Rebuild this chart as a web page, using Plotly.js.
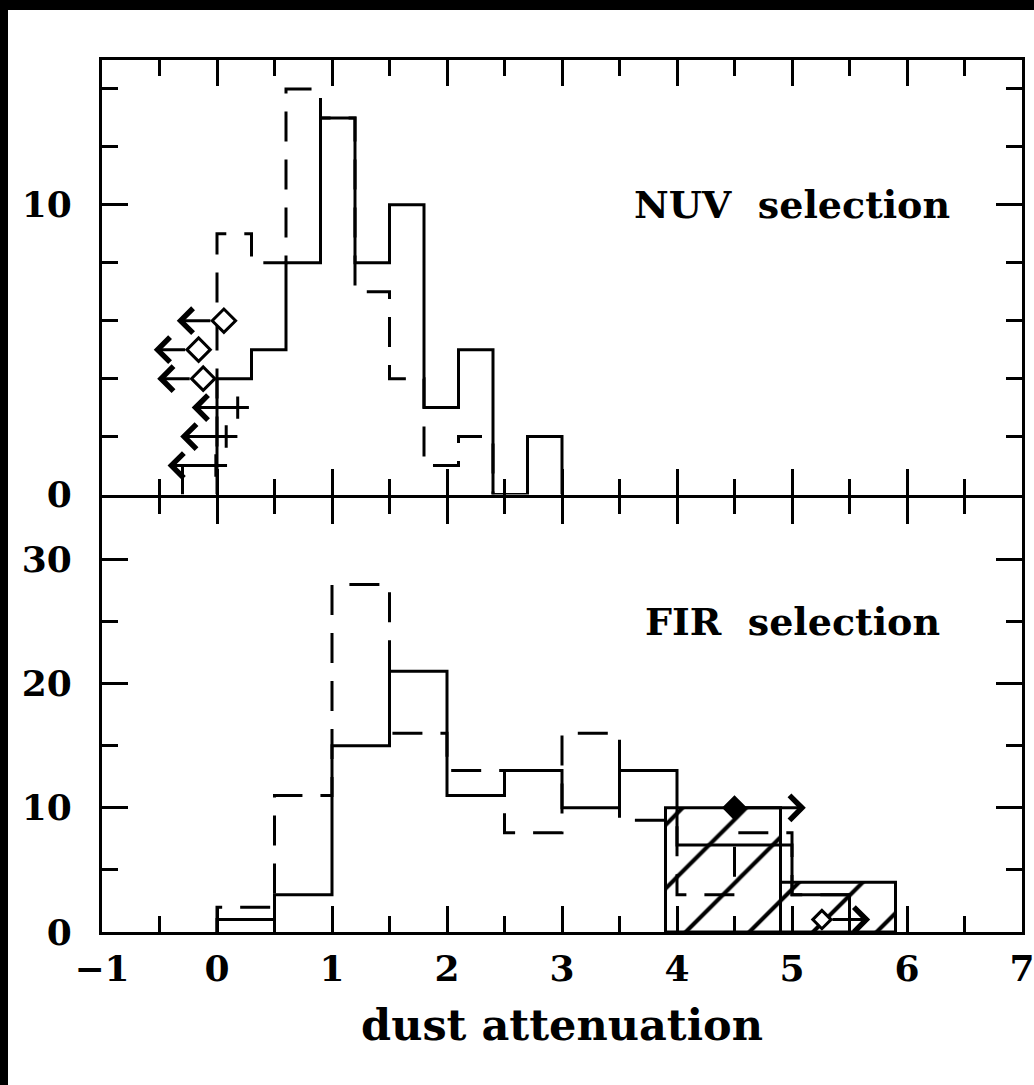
<!DOCTYPE html>
<html><head><meta charset="utf-8">
<script src="https://cdn.plot.ly/plotly-3.0.1.min.js"></script>
<style>
html,body{margin:0;padding:0;background:#000;width:1034px;height:1085px;overflow:hidden}
#chart{position:absolute;left:8px;top:10px;width:1026px;height:1075px;background:#fff;overflow:hidden}
</style>
</head><body><div id="chart"></div>
<script>
// ---------- DATA ----------
// NUV selection (top panel)
const nuvSolidStart = -0.3;
const nuvBinWidth = 0.3;
const nuvSolidCounts = [1, 4, 5, 8, 13, 8, 10, 3, 5, 0, 2];
const nuvDashedStart = 0.0;
const nuvDashedCounts = [9, 8, 14, 13, 7, 4, 1, 2];
// upper limits (marker position, arrow tip)
const nuvLimX = [0.06, -0.16, -0.12, 0.18, 0.08, -0.01];
const nuvLimY = [6, 5, 4, 3, 2, 1];
const nuvLimTip = [-0.35, -0.55, -0.52, -0.22, -0.32, -0.43];
const nuvLimKind = ['diamond', 'diamond', 'diamond', 'plus', 'plus', 'plus'];

// FIR selection (bottom panel)
const firStart = 0.0;
const firBinWidth = 0.5;
const firSolidCounts = [1, 3, 15, 21, 11, 13, 10, 13, 7, 7, 3];
const firDashedCounts = [2, 11, 28, 16, 13, 8, 16, 9, 3, 8, 3];
const firHatchCenters = [4.4, 5.4];
const firHatchCounts = [10, 4];
const firHatchWidth = 1.0;
// lower limits (marker position, arrow tip)
const firLimX = [4.5, 5.26];
const firLimY = [10, 1];
const firLimTip = [5.12, 5.68];
const firLimKind = ['filled', 'open'];

// ---------- BUILD ----------
function steps(start, w, counts) {
  const xs = [start], ys = [0];
  counts.forEach((c, i) => { xs.push(start + i * w); ys.push(c); });
  xs.push(start + counts.length * w); ys.push(0);
  return {xs, ys};
}
const FONT = 'DejaVu Serif';
const solidLine = {color: '#000', width: 3, shape: 'hv'};
const dashLine = {color: '#000', width: 3, shape: 'hv', dash: '30px,18px'};

const nS = steps(nuvSolidStart, nuvBinWidth, nuvSolidCounts);
const nD = steps(nuvDashedStart, nuvBinWidth, nuvDashedCounts);
const fS = steps(firStart, firBinWidth, firSolidCounts);
const fD = steps(firStart, firBinWidth, firDashedCounts);

const traces = [
  {type: 'bar', x: firHatchCenters, y: firHatchCounts, width: firHatchWidth,
   xaxis: 'x', yaxis: 'y',
   marker: {color: '#fff', line: {color: '#000', width: 3},
            pattern: {shape: '/', fgcolor: '#000', bgcolor: '#fff', size: 45, solidity: 0.09}}},
  {type: 'scatter', mode: 'lines', x: nD.xs, y: nD.ys, xaxis: 'x2', yaxis: 'y2', line: dashLine},
  {type: 'scatter', mode: 'lines', x: nS.xs, y: nS.ys, xaxis: 'x2', yaxis: 'y2', line: solidLine},
  {type: 'scatter', mode: 'lines', x: fD.xs, y: fD.ys, xaxis: 'x', yaxis: 'y', line: dashLine},
  {type: 'scatter', mode: 'lines', x: fS.xs, y: fS.ys, xaxis: 'x', yaxis: 'y', line: solidLine},
  {type: 'scatter', mode: 'markers', xaxis: 'x2', yaxis: 'y2',
   x: nuvLimX, y: nuvLimY,
   marker: {symbol: nuvLimKind.map(k => k === 'diamond' ? 'diamond' : 'cross-thin'),
            size: nuvLimKind.map(k => k === 'diamond' ? 18 : 16), opacity: 1,
            color: '#fff', line: {color: '#000', width: 3}}},
  {type: 'scatter', mode: 'markers', xaxis: 'x', yaxis: 'y',
   x: firLimX, y: firLimY,
   marker: {symbol: 'diamond', size: firLimKind.map(k => k === 'filled' ? 16 : 14), opacity: 1,
            color: firLimKind.map(k => k === 'filled' ? '#000' : '#fff'),
            line: {color: '#000', width: 3}}}
];

const annotations = [];
nuvLimX.forEach((x0, i) => {
  annotations.push({xref: 'x2', yref: 'y2', axref: 'x2', ayref: 'y2',
    x: nuvLimTip[i], y: nuvLimY[i], ax: x0, ay: nuvLimY[i], text: '',
    showarrow: true, arrowhead: 4, arrowsize: 1.6, arrowwidth: 3, arrowcolor: '#000',
    standoff: 0, startstandoff: nuvLimKind[i] === 'diamond' ? 12 : 0});
});
firLimX.forEach((x0, i) => {
  annotations.push({xref: 'x', yref: 'y', axref: 'x', ayref: 'y',
    x: firLimTip[i], y: firLimY[i], ax: x0, ay: firLimY[i], text: '',
    showarrow: true, arrowhead: 4, arrowsize: 1.6, arrowwidth: 3, arrowcolor: '#000',
    standoff: 0, startstandoff: firLimKind[i] === 'open' ? 9 : 0});
});
annotations.push({xref: 'x2', yref: 'y2', x: 5, y: 10, text: 'NUV\u00a0\u00a0selection',
  showarrow: false, font: {family: FONT, size: 38, color: '#000', weight: 'bold'}});
annotations.push({xref: 'x', yref: 'y', x: 5, y: 25, text: 'FIR\u00a0\u00a0selection',
  showarrow: false, font: {family: FONT, size: 38, color: '#000', weight: 'bold'}});

const tickFont = {family: FONT, size: 36, color: '#000', weight: 'bold'};
const common = {showgrid: false, zeroline: false, showline: true, linecolor: '#000', linewidth: 3,
  mirror: 'allticks', ticks: 'inside', tickcolor: '#000', tickwidth: 3, ticklen: 26,
  tickfont: tickFont, fixedrange: true, ticklabeloverflow: 'allow'};
const xMinor = {dtick: 0.5, ticklen: 16, tickwidth: 3, tickcolor: '#000', ticks: 'inside'};
const gap = 1.5 / 872;

const layout = {
  width: 1026, height: 1075,
  margin: {l: 94, r: 12, t: 50, b: 153},
  paper_bgcolor: '#fff', plot_bgcolor: '#fff',
  showlegend: false, barmode: 'overlay',
  xaxis: Object.assign({}, common, {range: [-1, 7], tick0: 0, dtick: 1, minor: xMinor,
    anchor: 'y', domain: [0, 1], ticklabelstandoff: 3,
    title: {text: 'dust attenuation', font: {family: FONT, size: 43, color: '#000', weight: 'bold'}, standoff: 22}}),
  xaxis2: Object.assign({}, common, {range: [-1, 7], tick0: 0, dtick: 1, minor: xMinor,
    anchor: 'y2', domain: [0, 1], matches: 'x', showticklabels: false}),
  yaxis: Object.assign({}, common, {range: [0, 35], tick0: 0, dtick: 10,
    minor: {dtick: 5, ticklen: 16, tickwidth: 3, tickcolor: '#000', ticks: 'inside'},
    anchor: 'x', domain: [0, 0.5 - gap], ticklabelstandoff: 20}),
  yaxis2: Object.assign({}, common, {range: [0, 15], tick0: 0, dtick: 10,
    minor: {dtick: 2, ticklen: 16, tickwidth: 3, tickcolor: '#000', ticks: 'inside'},
    anchor: 'x2', domain: [0.5 + gap, 1], ticklabelstandoff: 20}),
  annotations: annotations
};

Plotly.newPlot('chart', traces, layout, {displayModeBar: false, staticPlot: true});
</script>
</body></html>
